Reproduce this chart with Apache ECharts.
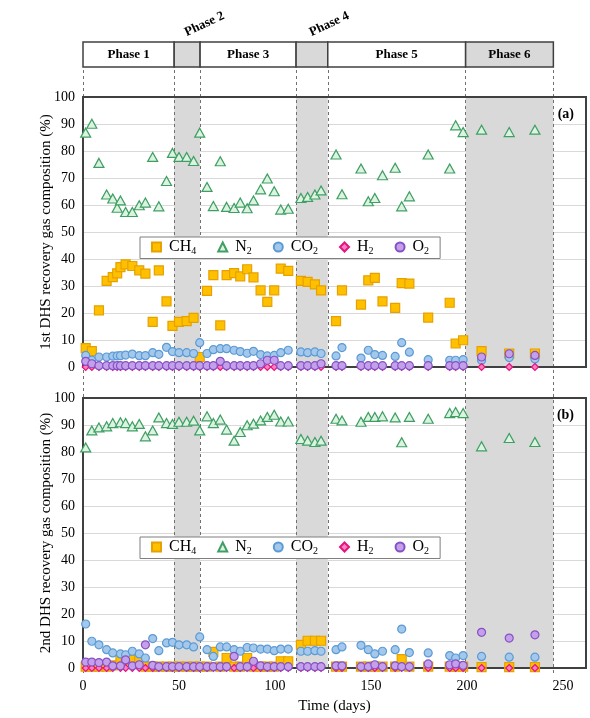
<!DOCTYPE html>
<html>
<head>
<meta charset="utf-8">
<script src="https://cdn.jsdelivr.net/npm/echarts@6/dist/echarts.min.js"></script>
<style>
html, body { margin: 0; padding: 0; background: #fff; }
#chart { width: 590px; height: 718px; }
</style>
</head>
<body>
<div id="chart"></div>
<script>
// sampling days (shared by both reactors)
const days = [1.4, 4.6, 8.3, 12.3, 15.5, 17.8, 19.5, 22.2, 25.7, 29.3,
  32.5, 36.3, 39.5, 43.5, 46.6, 50, 54, 57.6, 60.8, 64.6,
  67.9, 71.5, 74.8, 78.7, 81.9, 85.5, 88.8, 92.5, 96, 99.6,
  103, 106.9, 113.5, 117, 120.8, 124, 131.8, 134.9, 144.8, 148.6,
  152, 156, 162.6, 166, 170, 179.8, 191, 194.1, 198, 207.6,
  222, 235.4]

// 1st DHS (a)
const ch4A = [7.0, 5.9, 21.0, 31.9, 33.3, 34.7, 37.0, 38.0, 37.4, 35.8,
  34.6, 16.7, 35.8, 24.3, 15.2, 16.7, 17.0, 18.2, 3.7, 28.2,
  34.0, 15.4, 34.0, 34.8, 33.6, 36.2, 33.2, 28.4, 24.1, 28.4,
  36.4, 35.6, 31.9, 31.5, 30.6, 28.4, 17.0, 28.4, 23.1, 32.1,
  33.0, 24.3, 21.9, 31.1, 30.9, 18.3, 23.8, 8.7, 9.9, 5.9,
  5.0, 5.0]
const n2A = [86.8, 90.1, 75.6, 63.9, 62.4, 59.0, 61.7, 57.4, 57.4, 59.9,
  60.9, 77.8, 59.5, 68.9, 79.3, 77.8, 77.8, 76.3, 86.8, 66.7,
  59.6, 76.2, 59.3, 58.9, 60.9, 58.8, 61.7, 65.8, 69.8, 65.1,
  58.3, 58.6, 62.6, 63.0, 63.9, 65.4, 78.7, 64.0, 73.5, 61.4,
  62.6, 71.0, 73.8, 59.5, 63.2, 78.7, 73.5, 89.5, 87.0, 87.9,
  87.0, 87.9]
const co2A = [4.3, 2.5, 3.7, 3.7, 4.0, 4.1, 4.2, 4.4, 4.8, 4.2,
  4.2, 5.3, 4.7, 7.3, 5.7, 5.3, 5.3, 5.0, 9.0, 5.0,
  6.4, 6.8, 6.8, 6.2, 5.7, 5.1, 5.8, 4.6, 4.1, 4.3,
  5.3, 6.2, 5.6, 5.3, 5.6, 5.0, 4.1, 7.2, 3.3, 6.2,
  4.6, 4.3, 3.9, 9.0, 5.5, 2.7, 2.5, 2.5, 2.7, 2.5,
  3.5, 3.0]
const h2A = [0, 0, 0, 0, 0, 0, 0, 0, 0, 0,
  0, 0, 0, 0, 0, 0, 0, 0, 0, 0,
  0, 0, 0, 0, 0, 0, 0, 0, 0, 0,
  0, 0, 0, 0, 0, 0, 0, 0, 0, 0,
  0, 0, 0, 0, 0, 0, 0, 0, 0, 0,
  0, 0]
const o2A = [2.1, 1.2, 0.5, 0.5, 0.5, 0.5, 0.5, 0.5, 0.5, 0.5,
  0.5, 0.5, 0.5, 0.5, 0.5, 0.5, 0.5, 0.5, 0.5, 0.5,
  0.5, 2.1, 0.5, 0.5, 0.5, 0.5, 0.5, 1.2, 2.5, 2.5,
  0.5, 0.5, 0.5, 0.5, 0.5, 1.2, 0.5, 0.5, 0.5, 0.5,
  0.5, 0.5, 0.5, 0.5, 0.5, 0.5, 0.5, 0.5, 0.5, 3.7,
  4.9, 4.3]

// 2nd DHS (b)
const ch4B = [0.5, 0.5, 0.5, 0.5, 1.0, null, 3.3, 3.0, 3.0, 3.3,
  0.5, 0.5, 0.5, 0.5, 0.5, 0.5, 0.5, 0.5, 0.5, 0.5,
  6.0, 0.5, 3.7, 0.5, 0.5, 3.7, 0.5, 0.5, 0.5, 0.5,
  2.5, 2.5, 8.6, 10.1, 10.1, 10.1, 0.5, 0.5, 0.5, 0.5,
  0.5, 0.5, 0.5, 3.3, 0.5, 0.5, 0.5, 0.5, 0.5, 0.3,
  0.3, 0.3]
const n2B = [81.7, 88.0, 89.1, 89.5, 90.7, null, 91.0, 90.7, 89.5, 90.4,
  85.8, 88.0, 92.8, 90.7, 90.4, 91.2, 91.2, 91.6, 88.0, 93.2,
  90.7, 92.0, 88.3, 84.2, 87.4, 89.9, 90.5, 91.7, 93.0, 93.8,
  91.3, 91.3, 84.8, 84.2, 83.7, 84.2, 92.3, 91.7, 91.2, 93.0,
  93.0, 93.2, 92.8, 83.6, 93.0, 92.3, 94.4, 94.8, 94.4, 82.1,
  85.2, 83.7]
const co2B = [16.3, 9.9, 8.6, 6.8, 5.6, null, 5.2, 4.9, 6.2, 5.2,
  3.7, 10.9, 6.4, 9.3, 9.5, 8.6, 8.6, 7.8, 11.5, 6.8,
  4.3, 7.8, 7.8, 6.8, 6.2, 7.6, 7.4, 7.0, 7.0, 6.4,
  7.0, 7.0, 6.2, 6.2, 6.4, 6.2, 6.8, 7.8, 8.4, 6.8,
  5.2, 6.2, 6.8, 14.4, 5.7, 5.6, 4.6, 3.7, 4.6, 4.3,
  4.0, 4.0]
const h2B = [0, 0, 0, 0, 0, null, 0, 0, 0, 0,
  0, 0, 0, 0, 0, 0, 0, 0, 0, 0,
  0, 0, 0, 0, 0, 0, 0, 0, 0, 0,
  0, 0, 0, 0, 0, 0, 0, 0, 0, 0,
  0, 0, 0, 0, 0, 0, 0, 0, 0, 0,
  0, 0]
const o2B = [2.2, 2.2, 2.0, 2.2, 0.8, null, 0.8, 3.0, 0.8, 1.2,
  8.6, 1.0, 0.5, 0.5, 0.5, 0.5, 0.5, 0.5, 0.5, 0.5,
  0.5, 0.5, 0.5, 4.3, 0.5, 0.5, 2.5, 0.8, 0.5, 0.5,
  0.5, 0.5, 0.5, 0.5, 0.5, 0.5, 0.8, 0.8, 0.5, 0.5,
  1.2, 0.5, 0.8, 0.5, 0.5, 1.5, 1.2, 1.5, 1.0, 13.2,
  11.1, 12.3]

// phases
const phaseNames = ['Phase 1', 'Phase 2', 'Phase 3', 'Phase 4', 'Phase 5', 'Phase 6']
const phaseEdges = [0, 47.5, 61, 111, 127.5, 199.3, 245]
const shadedPhases = [1, 3, 5]

const gasNames = ['CH4', 'N2', 'CO2', 'H2', 'O2']

const serif = "'Liberation Serif', 'DejaVu Serif', serif"
const X_MAX = 262
const LEFT = 83
const WIDTH = 503

const gasStyle = {
  CH4: { symbol: 'rect', size: 9, fill: '#ffc000', stroke: '#e6a100' },
  N2: { symbol: 'triangle', size: [10, 9], fill: '#dcf3e2', stroke: '#3f9f63' },
  CO2: { symbol: 'circle', size: 8, fill: '#a4c8ec', stroke: '#5b9bd5' },
  H2: { symbol: 'diamond', size: 7, fill: '#ff7fbf', stroke: '#e3147f' },
  O2: { symbol: 'circle', size: 8, fill: '#c5a0ea', stroke: '#8651c4' },
}

const gasSeries = (name, values, k) => {
  const st = gasStyle[name]
  return {
    name,
    type: 'scatter',
    xAxisIndex: k,
    yAxisIndex: k,
    symbol: st.symbol,
    symbolSize: st.size,
    z: 5,
    itemStyle: { color: st.fill, borderColor: st.stroke, borderWidth: 1.2, opacity: 1 },
    emphasis: { disabled: true },
    data: days.map((d, i) => [d, values[i]]).filter((p) => p[1] != null),
  }
}

const shadeArea = {
  silent: true,
  itemStyle: { color: '#d9d9d9' },
  data: shadedPhases.map((i) => [{ xAxis: phaseEdges[i] }, { xAxis: phaseEdges[i + 1] }]),
}

const legendFmt = (name) => {
  const m = name.match(/^([A-Z]+)(\d)$/)
  return '{n|' + m[1] + '}{s|' + m[2] + '}'
}

const makeLegend = (top) => ({
  data: gasNames,
  left: 140,
  top,
  selectedMode: false,
  backgroundColor: '#fff',
  borderColor: '#7f7f7f',
  borderWidth: 1,
  padding: [2, 11, 2, 11],
  itemGap: 21,
  itemWidth: 9,
  itemHeight: 9,
  z: 6,
  formatter: legendFmt,
  textStyle: {
    color: '#000',
    fontFamily: serif,
    rich: {
      n: { fontFamily: serif, fontSize: 16, color: '#000', padding: [0, 0, 0, 3] },
      s: { fontFamily: serif, fontSize: 10, color: '#000', padding: [9, 0, 0, 0] },
    },
  },
})

const panelY = (k, name) => ({
  gridIndex: k,
  min: 0,
  max: 100,
  interval: 10,
  z: 2,
  axisLine: { show: false },
  axisTick: { show: false },
  axisLabel: { fontFamily: serif, fontSize: 14, color: '#000', margin: 8 },
  splitLine: { lineStyle: { color: '#d9d9d9', width: 1 } },
  name,
  nameLocation: 'middle',
  nameGap: 29,
  nameMoveOverlap: false,
  nameTextStyle: { fontFamily: serif, fontSize: 15, color: '#000' },
})

const chart = echarts.init(document.getElementById('chart'))
chart.setOption({
  animation: false,
  backgroundColor: '#fff',
  title: [
    { text: '(a)', right: 11, top: 102, textStyle: { fontFamily: serif, fontSize: 14, fontWeight: 'bold', color: '#000' } },
    { text: '(b)', right: 11, top: 403, textStyle: { fontFamily: serif, fontSize: 14, fontWeight: 'bold', color: '#000' } },
  ],
  legend: [makeLegend(237), makeLegend(537)],
  grid: [
    { left: LEFT, width: WIDTH, top: 42, height: 25 },
    { left: LEFT, width: WIDTH, top: 97, height: 270, show: true, z: 4, borderColor: '#404040', borderWidth: 2, backgroundColor: 'transparent' },
    { left: LEFT, width: WIDTH, top: 398, height: 270, show: true, z: 4, borderColor: '#404040', borderWidth: 2, backgroundColor: 'transparent' },
    { left: LEFT, width: WIDTH, top: 67, height: 606 },
  ],
  xAxis: [
    { gridIndex: 0, type: 'value', min: 0, max: X_MAX, show: false },
    { gridIndex: 1, type: 'value', min: 0, max: X_MAX, interval: 50, axisLine: { show: false }, axisTick: { show: false }, axisLabel: { show: false }, splitLine: { show: false } },
    {
      gridIndex: 2, type: 'value', min: 0, max: X_MAX, interval: 50,
      axisLine: { show: false }, axisTick: { show: false }, splitLine: { show: false },
      axisLabel: { fontFamily: serif, fontSize: 14, color: '#000', margin: 11, showMaxLabel: false },
      name: 'Time (days)', nameLocation: 'middle', nameGap: 31, nameMoveOverlap: false,
      nameTextStyle: { fontFamily: serif, fontSize: 15, color: '#000' },
    },
    { gridIndex: 3, type: 'value', min: 0, max: X_MAX, show: false },
  ],
  yAxis: [
    { gridIndex: 0, type: 'value', min: 0, max: 1, show: false },
    panelY(1, '1st DHS recovery gas composition (%)'),
    panelY(2, '2nd DHS recovery gas composition (%)'),
    { gridIndex: 3, type: 'value', min: 0, max: 1, show: false },
  ],
  series: [
    {
      type: 'custom',
      xAxisIndex: 0,
      yAxisIndex: 0,
      silent: true,
      data: phaseNames.map((n, i) => [phaseEdges[i], phaseEdges[i + 1], i]),
      renderItem: (params, api) => {
        const i = api.value(2)
        const p0 = api.coord([api.value(0), 1])
        const p1 = api.coord([api.value(1), 0])
        const w = p1[0] - p0[0]
        const cx = (p0[0] + p1[0]) / 2
        const above = w < 40
        return {
          type: 'group',
          children: [
            {
              type: 'rect',
              shape: { x: p0[0], y: p0[1], width: w, height: p1[1] - p0[1] },
              style: { fill: shadedPhases.includes(i) ? '#d9d9d9' : '#fff', stroke: '#404040', lineWidth: 1.5 },
            },
            {
              type: 'text',
              x: above ? cx + 1 : cx,
              y: above ? p0[1] - 3 : (p0[1] + p1[1]) / 2,
              rotation: above ? (25 * Math.PI) / 180 : 0,
              style: {
                text: phaseNames[i],
                fill: '#000',
                font: 'bold 13px ' + serif,
                textAlign: above ? 'left' : 'center',
                textVerticalAlign: above ? 'bottom' : 'middle',
              },
            },
          ],
        }
      },
    },
    {
      type: 'scatter',
      xAxisIndex: 3,
      yAxisIndex: 3,
      data: [],
      markLine: {
        silent: true,
        z: 3,
        symbol: 'none',
        label: { show: false },
        lineStyle: { type: [3, 3], color: '#707070', width: 1 },
        data: phaseEdges.map((x) => ({ xAxis: x })),
      },
    },
    Object.assign(gasSeries('CH4', ch4A, 1), { markArea: shadeArea }),
    gasSeries('N2', n2A, 1),
    gasSeries('CO2', co2A, 1),
    gasSeries('H2', h2A, 1),
    gasSeries('O2', o2A, 1),
    Object.assign(gasSeries('CH4', ch4B, 2), { markArea: shadeArea }),
    gasSeries('N2', n2B, 2),
    gasSeries('CO2', co2B, 2),
    gasSeries('H2', h2B, 2),
    gasSeries('O2', o2B, 2),
  ],
})
</script>
</body>
</html>
